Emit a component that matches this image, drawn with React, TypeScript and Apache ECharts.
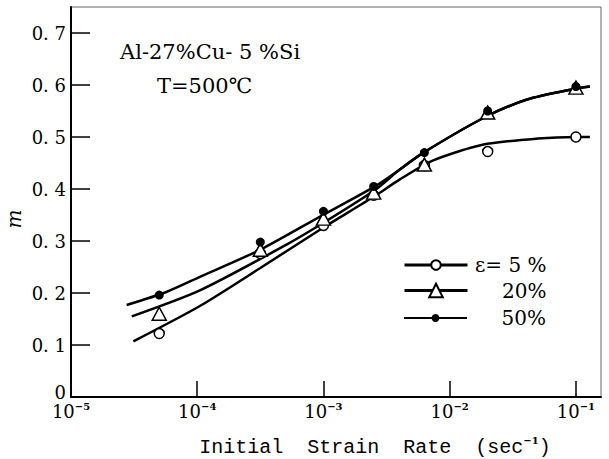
import { useEffect, useRef } from 'react';
import * as echarts from 'echarts';

// Measured points
const strainRates = [5e-5, 3.16e-4, 1e-3, 2.5e-3, 6.3e-3, 2e-2, 1e-1];
const m5 = [0.122, 0.276, 0.33, 0.388, 0.445, 0.472, 0.5];
const m20 = [0.16, 0.283, 0.343, 0.393, 0.447, 0.547, 0.595];
const m50 = [0.196, 0.298, 0.357, 0.405, 0.47, 0.55, 0.597];

// Fitted curves
const fitRate5 = [3.12e-5, 1.05e-4, 3.16e-4, 1e-3, 2.5e-3, 4e-3, 7.4e-3, 1.82e-2, 5e-2, 1e-1, 0.129];
const fitM5 = [0.107, 0.175, 0.248, 0.326, 0.385, 0.418, 0.455, 0.485, 0.497, 0.5, 0.5];
const fitRate20 = [3.03e-5, 1.05e-4, 5.1e-4, 1e-3, 2.56e-3, 4e-3, 6.2e-3, 1.9e-2, 4.1e-2, 9.5e-2, 0.129];
const fitM20 = [0.155, 0.205, 0.293, 0.335, 0.398, 0.437, 0.47, 0.538, 0.572, 0.592, 0.597];
const fitRate50 = [2.76e-5, 5.7e-5, 1.05e-4, 3.14e-4, 9.4e-4, 2.56e-3, 4e-3, 6.2e-3, 1.9e-2, 4.1e-2, 9.5e-2, 0.129];
const fitM50 = [0.177, 0.202, 0.231, 0.283, 0.347, 0.405, 0.437, 0.47, 0.538, 0.572, 0.592, 0.597];

const yTickValues = [0.1, 0.2, 0.3, 0.4, 0.5, 0.6, 0.7];
const yLabelValues = [0, 0.1, 0.2, 0.3, 0.4, 0.5, 0.6, 0.7];
const seriesNames = ['ε= 5 %', '20%', '50%'];
const noteLines = ['Al-27%Cu- 5 %Si', 'T=500℃'];

const FONT = '"DejaVu Serif", serif';

const zip = (xs: number[], ys: number[]) => xs.map((x, i) => [x, ys[i]]);

export default function App() {
  const ref = useRef<HTMLDivElement>(null);
  useEffect(() => {
    if (!ref.current) return;
    document.body.style.margin = '0';
    const chart = echarts.init(ref.current, null, { renderer: 'svg' });
    const lineBase = (name: string, data: number[][], symbol: string, width: number) => ({
      type: 'line',
      name,
      data,
      smooth: 0.25,
      symbol,
      showSymbol: false,
      color: '#000',
      lineStyle: { color: '#000', width },
      itemStyle: { color: '#000' },
      z: 2,
    });
    const option: any = {
      animation: false,
      backgroundColor: '#fff',
      grid: {
        left: 71, right: 8, top: 7, bottom: 62,
        outerBoundsMode: 'none', containLabel: false,
        show: true, borderColor: '#666', borderWidth: 1,
      },
      legend: [
        { data: [seriesNames[0]], itemHeight: 12, top: 255, lw: 3 },
        { data: [seriesNames[1]], itemHeight: 17, top: 280.5, lw: 3 },
        { data: [seriesNames[2]], itemHeight: 10, top: 308, lw: 2 },
      ].map(({ lw, ...l }) => ({
        ...l,
        left: 403,
        padding: 0,
        itemWidth: 63,
        selectedMode: false,
        lineStyle: { width: lw, color: '#000' },
        formatter: (n: string) => `{r|${n}}`,
        textStyle: {
          rich: { r: { width: 74, align: 'right', fontFamily: FONT, fontSize: 20, color: '#000' } },
        },
      })),
      xAxis: {
        type: 'log',
        logBase: 10,
        min: 1e-5,
        max: 0.158,
        splitLine: { show: false },
        axisLine: { lineStyle: { color: '#000', width: 2 } },
        axisTick: { inside: true, length: 16, lineStyle: { color: '#000', width: 1.5 } },
        axisLabel: {
          margin: 4,
          showMaxLabel: false,
          hideOverlap: false,
          formatter: (v: number) => {
            const e = Math.log10(v);
            const r = Math.round(e);
            if (Math.abs(e - r) > 1e-6) return '';
            return `{a|10}{s|−${-r}}`;
          },
          rich: {
            a: { fontFamily: FONT, fontSize: 18, color: '#000', lineHeight: 20 },
            s: { fontFamily: FONT, fontSize: 10, fontWeight: 'bold', color: '#000', verticalAlign: 'top', lineHeight: 12 },
          },
        },
        name: '{t|Initial  Strain  Rate  (sec}{s|−1}{t|)}',
        nameLocation: 'middle',
        nameGap: 38,
        nameMoveOverlap: false,
        nameTextStyle: {
          padding: [0, 0, 0, 78],
          rich: {
            t: { fontFamily: '"Liberation Mono", monospace', fontSize: 20, color: '#000', lineHeight: 24 },
            s: { fontFamily: FONT, fontSize: 10, fontWeight: 'bold', color: '#000', verticalAlign: 'top', lineHeight: 14 },
          },
        },
      },
      yAxis: {
        type: 'value',
        min: 0,
        max: 0.75,
        interval: 0.1,
        splitLine: { show: false },
        axisLine: { lineStyle: { color: '#000', width: 2 } },
        axisTick: { inside: true, length: 19, customValues: yTickValues, lineStyle: { color: '#000', width: 1.5 } },
        axisLabel: {
          margin: 5,
          customValues: yLabelValues,
          fontFamily: FONT,
          fontSize: 18,
          color: '#000',
          formatter: (v: number) => (Math.abs(v) < 1e-9 ? '{z|0}' : v.toFixed(1).replace('.', '. ')),
          rich: { z: { fontFamily: FONT, fontSize: 18, color: '#000', padding: [0, 0, 10, 0] } },
        },
        name: 'm',
        nameLocation: 'middle',
        nameRotate: 90,
        nameGap: 47,
        nameMoveOverlap: false,
        nameTextStyle: { fontFamily: FONT, fontStyle: 'italic', fontSize: 20, color: '#000', padding: [0, 34, 0, 0] },
      },
      graphic: [
        { type: 'text', left: 120, top: 41, style: { text: noteLines[0], fontFamily: FONT, fontSize: 21, fill: '#000' } },
        { type: 'text', left: 157, top: 75, style: { text: noteLines[1], fontFamily: FONT, fontSize: 21, fill: '#000' } },
      ],
      series: [
        lineBase(seriesNames[0], zip(fitRate5, fitM5), 'emptyCircle', 2.5),
        lineBase(seriesNames[1], zip(fitRate20, fitM20), 'emptyTriangle', 2.5),
        lineBase(seriesNames[2], zip(fitRate50, fitM50), 'circle', 2.5),
        {
          type: 'scatter',
          name: seriesNames[0],
          data: zip(strainRates, m5),
          symbol: 'circle',
          symbolSize: 10,
          itemStyle: { color: '#fff', borderColor: '#000', borderWidth: 1.5, opacity: 1 },
          z: 3,
        },
        {
          type: 'scatter',
          name: seriesNames[1],
          data: zip(strainRates, m20),
          symbol: 'triangle',
          symbolSize: [14, 13],
          itemStyle: { color: '#fff', borderColor: '#000', borderWidth: 1.5, opacity: 1 },
          z: 4,
        },
        {
          type: 'scatter',
          name: seriesNames[2],
          data: zip(strainRates, m50),
          symbol: 'circle',
          symbolSize: 9,
          itemStyle: { color: '#000', opacity: 1 },
          z: 5,
        },
      ],
    };
    chart.setOption(option);
    return () => chart.dispose();
  }, []);
  return <div ref={ref} style={{ width: 609, height: 459 }} />;
}
